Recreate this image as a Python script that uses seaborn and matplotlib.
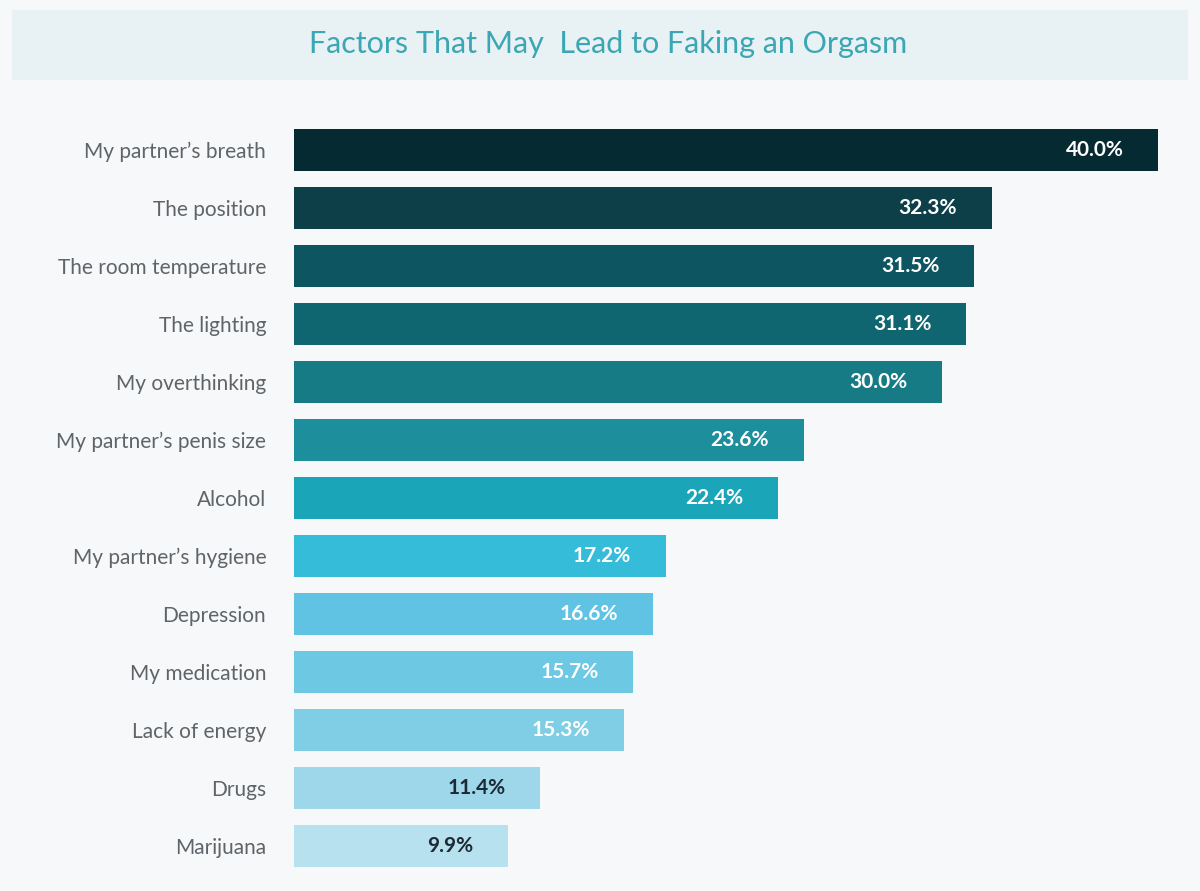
import matplotlib
matplotlib.use("Agg")
import matplotlib.pyplot as plt
from matplotlib.patches import Rectangle
import seaborn as sns
import pandas as pd

# values
factors = ["My partner\u2019s breath", "The position", "The room temperature", "The lighting",
           "My overthinking", "My partner\u2019s penis size", "Alcohol", "My partner\u2019s hygiene",
           "Depression", "My medication", "Lack of energy", "Drugs", "Marijuana"]
shares = [40.0, 32.3, 31.5, 31.1, 30.0, 23.6, 22.4, 17.2, 16.6, 15.7, 15.3, 11.4, 9.9]
colors = ["#062a31", "#0c3f47", "#0d5560", "#0f6570", "#177b85", "#1c8e9c", "#1aa5b9",
          "#35bcd8", "#60c3e3", "#6dc8e3", "#80cde6", "#9fd7ea", "#b8e1ef"]
label_colors = ["white"] * 11 + ["#1c2a36", "#1c2a36"]

df = pd.DataFrame({"factor": factors, "share": shares})

sns.set_style("white")
plt.rcParams["font.family"] = ["Lato", "DejaVu Sans"]

bg = "#f6f8fa"
fig = plt.figure(figsize=(12, 8.91), dpi=100, facecolor=bg)
ax = fig.add_axes([0.245, 0.018, 0.745, 0.846])
ax.set_facecolor(bg)

sns.barplot(data=df, y="factor", x="share", hue="factor", palette=colors,
            legend=False, orient="h", width=0.72, saturation=1, linewidth=0, ax=ax)

ax.set_xlim(0, 41.39)
ax.set_ylim(12.5, -0.5)
ax.set_xlabel("")
ax.set_ylabel("")
ax.set_xticks([])
ax.tick_params(axis="y", length=0, pad=20, labelsize=15, labelcolor="#5f6468")
sns.despine(ax=ax, left=True, bottom=True)

for i, (v, c) in enumerate(zip(shares, label_colors)):
    ax.text(v - 1.6, i, f"{v:.1f}%", ha="right", va="center",
            color=c, fontsize=15, fontweight="bold")

# title band
fig.patches.append(Rectangle((0.01, 0.9102), 0.98, 0.0786, transform=fig.transFigure,
                             facecolor="#e8f1f3", edgecolor="none", zorder=0))
fig.text(0.507, 0.9506, "Factors That May  Lead to Faking an Orgasm", ha="center",
         va="center", fontsize=22, color="#3ba6b4")

fig.savefig("out.png", dpi=100, facecolor=bg)
